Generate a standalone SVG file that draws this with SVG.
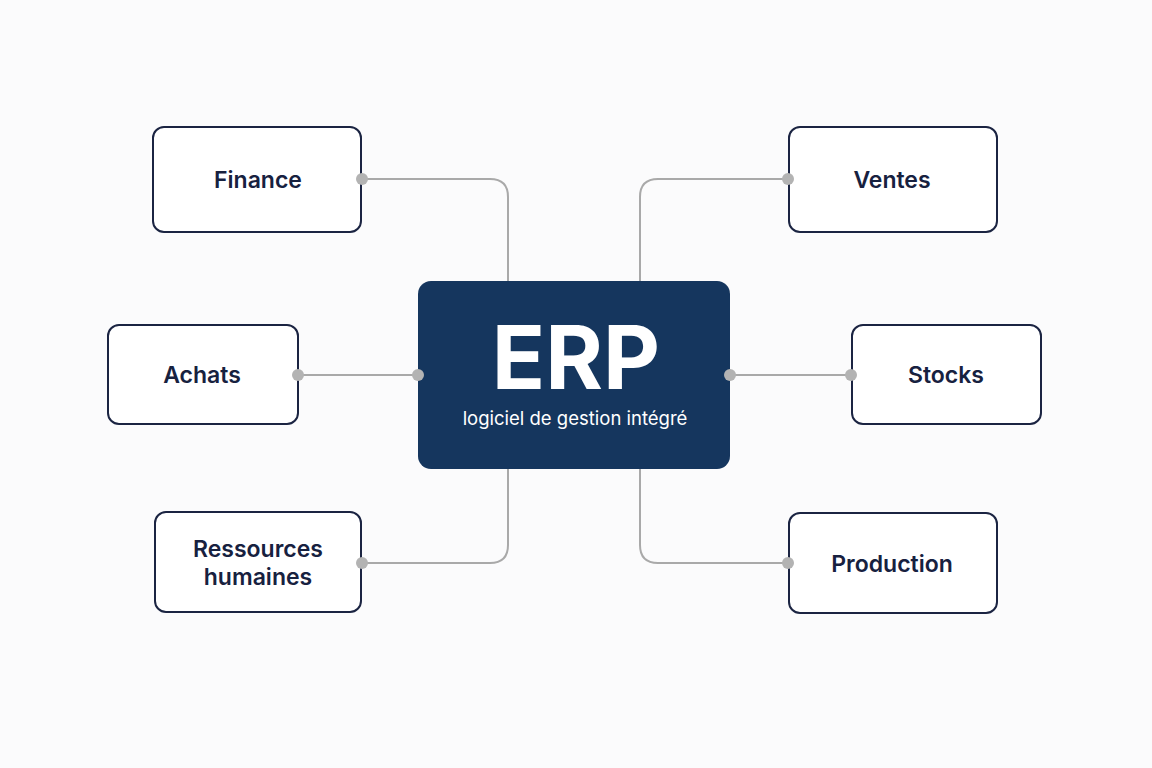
<svg xmlns="http://www.w3.org/2000/svg" width="1152" height="768" viewBox="0 0 1152 768">
<style>
.box{fill:#ffffff;stroke:#1b2442;stroke-width:2}
.lbl{font-family:Inter,"Liberation Sans",sans-serif;font-weight:600;font-size:23px;fill:#17213f;text-anchor:middle}
.con{fill:none;stroke:#a9a9a9;stroke-width:2}
.dot{fill:#b3b3b3}
</style>
<rect width="1152" height="768" fill="#fbfbfc"/>
<g id="connectors">
<path class="con" d="M362 179 H490 Q508 179 508 197 V281"/>
<path class="con" d="M788 179 H658 Q640 179 640 197 V281"/>
<path class="con" d="M362 563 H490 Q508 563 508 545 V469"/>
<path class="con" d="M788 563 H658 Q640 563 640 545 V469"/>
<path class="con" d="M298 375 H418"/>
<path class="con" d="M730 375 H851"/>
</g>
<g id="erp">
<rect x="418" y="281" width="312" height="188" rx="13" fill="#15365e"/>
<text x="576" y="389" font-family="Inter,'Liberation Sans',sans-serif" font-weight="700" font-size="88" fill="#ffffff" text-anchor="middle">ERP</text>
<text x="575" y="425" font-family="Inter,'Liberation Sans',sans-serif" font-size="18.5" fill="#ffffff" text-anchor="middle">logiciel de gestion intégré</text>
</g>
<g id="finance">
<rect class="box" x="153" y="127" width="208" height="105" rx="11"/>
<text class="lbl" x="258" y="188">Finance</text>
</g>
<g id="ventes">
<rect class="box" x="789" y="127" width="208" height="105" rx="11"/>
<text class="lbl" x="892" y="188">Ventes</text>
</g>
<g id="achats">
<rect class="box" x="108" y="325" width="190" height="99" rx="11"/>
<text class="lbl" x="202" y="383">Achats</text>
</g>
<g id="stocks">
<rect class="box" x="852" y="325" width="189" height="99" rx="11"/>
<text class="lbl" x="946" y="383">Stocks</text>
</g>
<g id="rh">
<rect class="box" x="155" y="512" width="206" height="100" rx="11"/>
<text class="lbl" x="258" y="557">Ressources</text>
<text class="lbl" x="258" y="585">humaines</text>
</g>
<g id="production">
<rect class="box" x="789" y="513" width="208" height="100" rx="11"/>
<text class="lbl" x="892" y="572">Production</text>
</g>
<g id="dots">
<circle class="dot" cx="362" cy="179" r="6"/>
<circle class="dot" cx="788" cy="179" r="6"/>
<circle class="dot" cx="362" cy="563" r="6"/>
<circle class="dot" cx="788" cy="563" r="6"/>
<circle class="dot" cx="298" cy="375" r="6"/>
<circle class="dot" cx="418" cy="375" r="6"/>
<circle class="dot" cx="730" cy="375" r="6"/>
<circle class="dot" cx="851" cy="375" r="6"/>
</g>
</svg>
